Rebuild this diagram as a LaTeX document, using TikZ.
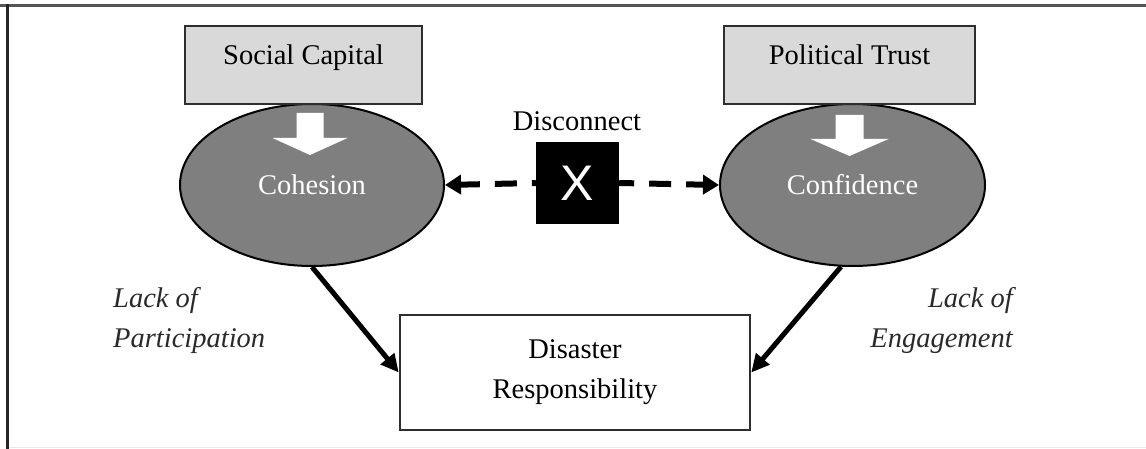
\documentclass[tikz,border=0pt]{standalone}
\usepackage{fontspec}
\setmainfont{Liberation Serif}
\newfontfamily\xsansfont{Liberation Sans}
\usetikzlibrary{shapes.geometric,arrows.meta}
\definecolor{boxgray}{HTML}{D9D9D9}
\definecolor{ellgray}{HTML}{7F7F7F}
\definecolor{edgegray}{HTML}{2E2E2E}
\definecolor{framegray}{HTML}{555555}
\definecolor{labgray}{HTML}{2A2A2A}
\newcommand\mydiagfont{\fontsize{28.5}{40}\selectfont}
\begin{document}
\begin{tikzpicture}[x=1pt,y=-1pt,
  font=\mydiagfont,
  topbox/.style={draw=edgegray, line width=2.5pt, fill=boxgray, inner sep=0pt,
    text height=38pt, text depth=40pt, anchor=north},
  oval/.style={ellipse, draw=black, line width=2pt, fill=ellgray, text=white,
    minimum width=264pt, minimum height=162pt, inner sep=0pt},
  xbox/.style={fill=black, text=white, minimum width=83pt, minimum height=82pt,
    inner sep=0pt, font=\xsansfont\fontsize{50}{50}\selectfont},
  drbox/.style={draw=edgegray, line width=2.5pt, fill=white, minimum width=350pt,
    minimum height=115pt, align=center, inner sep=0pt},
  lab/.style={font=\mydiagfont\itshape, text=labgray, inner sep=0pt},
  dasharrow/.style={line width=6pt, dash pattern=on 22pt off 15pt,
    -{Triangle[length=16pt,width=19pt]}},
  solidarrow/.style={line width=5pt, -{Triangle[length=18pt,width=17pt]}},
  whitearrow/.style={fill=white}
]
\useasboundingbox (0,0) rectangle (1146,449);
% frame
\draw[framegray, line width=3pt] (0,5.5) -- (1146,5.5);
\draw[black!85, line width=3pt] (7.5,4) -- (7.5,449);
\draw[black!8, line width=1pt] (9,447.5) -- (1146,447.5);

% ellipses
\node[oval] (coh) at (312,185) {Cohesion};
\node[oval, minimum width=265pt] (conf) at (852.5,185) {\raisebox{-4pt}{Confidence}};

% top boxes
\node[topbox, minimum width=237pt] (sc) at (303.5,25) {Social Capital};
\node[topbox, minimum width=251pt] (pt) at (849.5,25) {Political Trust};

% white down arrows
\fill[whitearrow] (coh.center) ++(-15.5,-72) -- ++(27,0) -- ++(0,25) -- ++(24,0)
  -- ++(-37.5,17) -- ++(-37.5,-17) -- ++(24,0) -- cycle;
\fill[whitearrow] (conf.center) ++(-17,-70) -- ++(28,0) -- ++(0,24) -- ++(25,0)
  -- ++(-39,17) -- ++(-39,-17) -- ++(25,0) -- cycle;

% disconnect
\node (dis) at (577,121) {Disconnect};
\node[xbox] (xb) at (577.5,183) {X};
\draw[dasharrow, dash phase=18pt] (xb.west) -- (coh.east);
\draw[dasharrow, dash phase=7pt] (xb.east) -- (conf.west);

% bottom box
\node[drbox] (dr) at (575,372.5) {Disaster\\Responsibility};
\draw[solidarrow] (coh.south) -- (dr.west);
\draw[solidarrow] (conf.262) -- (dr.east);

% labels
\node[lab, anchor=north west, align=left] (lp) at (113,287) {Lack of\\Participation};
\node[lab, anchor=north east, align=right] (le) at (1013,287) {Lack of\\Engagement};
\end{tikzpicture}
\end{document}
